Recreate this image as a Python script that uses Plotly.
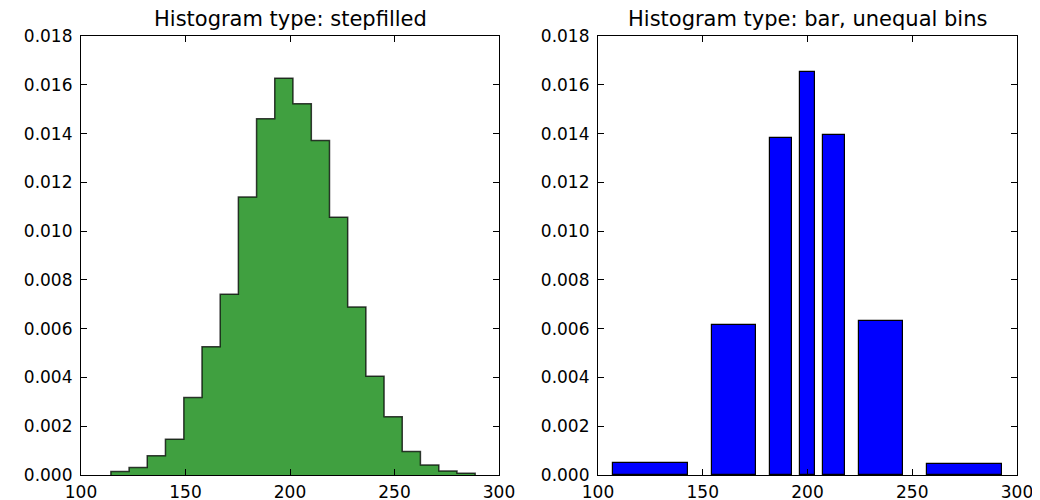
import plotly.graph_objects as go

# Left panel: stepfilled histogram (density)
step_edges = [114.3, 123.0, 131.7, 140.4, 149.2, 157.9, 166.6, 175.3, 184.0, 192.7,
              201.4, 210.2, 218.9, 227.6, 236.3, 245.0, 253.7, 262.4, 271.2, 279.9, 288.6]
step_density = [0.00014, 0.00031, 0.00079, 0.00147, 0.00318, 0.00526, 0.00741, 0.0114,
                0.01461, 0.01627, 0.01522, 0.01372, 0.01057, 0.00689, 0.00405, 0.00239,
                0.00096, 0.00041, 0.00016, 0.00007]

# Right panel: bar histogram with unequal bins
bar_edges = [100, 150, 180, 195, 205, 220, 250, 300]
bar_density = [0.000506, 0.00615, 0.01381, 0.01652, 0.01395, 0.00630, 0.000438]
rwidth = 0.71

x_ticks = [100, 150, 200, 250, 300]
y_ticks = [0.000, 0.002, 0.004, 0.006, 0.008, 0.010, 0.012, 0.014, 0.016, 0.018]
titles = ["Histogram type: stepfilled", "Histogram type: bar, unequal bins"]

FONT = "DejaVu Sans"

fig = go.Figure()

# stepfilled polygon outline
sx = [step_edges[0]] + step_edges
sy = [0] + step_density + [0]
fig.add_trace(go.Scatter(
    x=sx, y=sy, mode="lines", line=dict(shape="hv", color="rgba(0,0,0,0.75)", width=1.5),
    fill="tozeroy", fillcolor="rgb(64,160,64)", xaxis="x", yaxis="y", hoverinfo="skip",
    showlegend=False))

centers = [(a + b) / 2 for a, b in zip(bar_edges[:-1], bar_edges[1:])]
widths = [(b - a) * rwidth for a, b in zip(bar_edges[:-1], bar_edges[1:])]
fig.add_trace(go.Bar(
    x=centers, y=bar_density, width=widths,
    marker=dict(color="rgb(0,0,255)", line=dict(color="black", width=1.2)),
    xaxis="x2", yaxis="y2", showlegend=False))

# page body has an 8px margin; figure coords are offset by it
FW, FH = 1032, 492
L, T = 73, 28
PR, PB = 1009, 467  # plot right/bottom in figure coords
R, B = FW - PR, FH - PB
W = PR - L
d1 = (491 - L) / W
d2 = (590 - L) / W

axis_common = dict(
    showline=True, linecolor="black", linewidth=1.2, mirror="allticks",
    ticks="inside", ticklen=6, tickcolor="black", tickwidth=1,
    showgrid=False, zeroline=False, automargin=False,
    tickfont=dict(family=FONT, size=17, color="black"),
)

fig.update_layout(
    width=FW, height=FH,
    margin=dict(l=L, r=R, t=T, b=B, autoexpand=False),
    paper_bgcolor="white", plot_bgcolor="white",
    bargap=0,
    xaxis=dict(domain=[0, d1], range=[100, 300], tickvals=x_ticks, anchor="y", ticklabelstandoff=1, **axis_common),
    yaxis=dict(domain=[0, 1], range=[0, 0.018], tickvals=y_ticks, tickformat=".3f", anchor="x", ticklabelstandoff=4, **axis_common),
    xaxis2=dict(domain=[d2, 1], range=[100, 300], tickvals=x_ticks, anchor="y2", ticklabelstandoff=1, **axis_common),
    yaxis2=dict(domain=[0, 1], range=[0, 0.018], tickvals=y_ticks, tickformat=".3f", anchor="x2", ticklabelstandoff=4, **axis_common),
)

for i, (t, (a, b)) in enumerate(zip(titles, [(0, d1), (d2, 1)])):
    fig.add_annotation(text=t, x=(a + b) / 2, y=1, xref="paper", yref="paper",
                       xanchor="center", yanchor="bottom", yshift=3, showarrow=False,
                       font=dict(family=FONT, size=21, color="black"))

fig.write_html("out.html")
